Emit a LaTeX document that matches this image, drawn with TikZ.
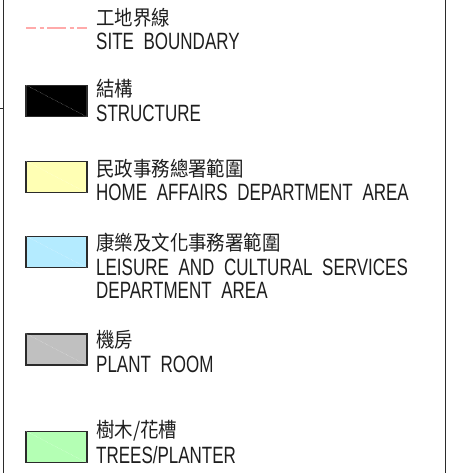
\documentclass[tikz,border=0pt]{standalone}
\usepackage{fontspec}
\setmainfont{Liberation Sans}
\newfontfamily\enfont{Liberation Sans}[FakeStretch=0.72,WordSpace=2.05]
\newfontfamily\zhfont{Noto Sans CJK TC}[FakeStretch=0.9]
\usepackage{xcolor}
\usepackage{tikz}
\usetikzlibrary{positioning}
\definecolor{siteline}{HTML}{FFAAAA}
\definecolor{boxedge}{HTML}{2B2B2B}
\definecolor{hadyellow}{HTML}{FFFFB4}
\definecolor{lcsdblue}{HTML}{B4EBFF}
\definecolor{plantgrey}{HTML}{C0C0C0}
\definecolor{treegreen}{HTML}{B4FFB4}
\definecolor{inktext}{HTML}{1E1E1E}
\tikzset{
	legbox/.style={draw=boxedge, line width=1.6pt, minimum width=61pt, minimum height=31pt, inner sep=0pt},
	diagline/.style={white, line width=0.4pt, densely dotted, opacity=0.7},
	zhtext/.style={anchor=west, inner sep=0pt, text=inktext, font=\zhfont\fontsize{20.5}{22}\selectfont},
	entext/.style={inner sep=0pt, align=left, text=inktext, font=\enfont\fontsize{23.6}{23.3}\selectfont},
	frameline/.style={boxedge, line width=1.4pt}
}

\begin{document}
\begin{tikzpicture}[x=1pt, y=1pt]
	\useasboundingbox (0,0) rectangle (452,473);
	% frame
	\draw[frameline] (3.5,0) -- (3.5,473);
	\draw[frameline] (445.5,0) -- (445.5,473);
	\draw[boxedge, line width=0.8pt] (0,365) -- (3.5,365);
	% site boundary
	\coordinate (sbwest) at (26,445.3);
	\coordinate (sbeast) at (87,445.3);
	\draw[siteline, line width=2pt, dash pattern=on 19pt off 3.5pt on 4pt off 3.5pt, dash phase=9pt] (sbwest) -- (sbeast);
	\node[zhtext] (zh1) at (96,455.5) {工地界線};
	\node[entext, below=15.5pt of zh1.west, anchor=north west] (en1) {SITE BOUNDARY};
	% legend boxes
	\foreach \col/\by/\zy/\zh/\en [count=\ii from 2] in {
		black/372/384/結構/STRUCTURE,
		hadyellow/296/304.5/民政事務總署範圍/HOME AFFAIRS DEPARTMENT AREA,
		lcsdblue/221/230/康樂及文化事務署範圍/{LEISURE AND CULTURAL SERVICES\\DEPARTMENT AREA},
		plantgrey/123.5/133/機房/PLANT ROOM,
		treegreen/26/42/{樹木/花槽}/{TREES/PLANTER}}
	{
		\node[legbox, fill=\col] (box\ii) at (56.5,\by) {};
		\draw[diagline] (box\ii.north west) -- (box\ii.south east);
		\node[zhtext] (zh\ii) at (96,\zy) {\zh};
		\node[entext, below=15.5pt of zh\ii.west, anchor=north west] (en\ii) {\en};
	}
\end{tikzpicture}
\end{document}
